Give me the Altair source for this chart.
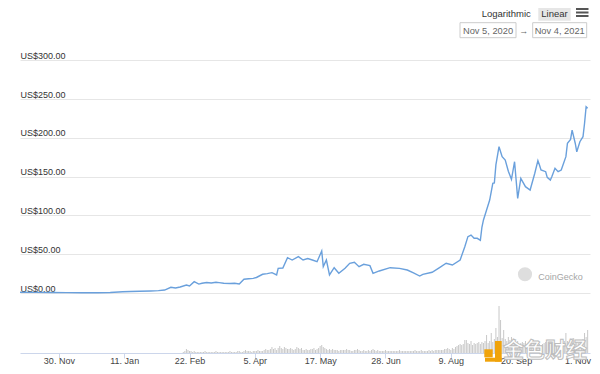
import altair as alt
import pandas as pd

# ---------------- data ----------------
price_dates = [
    "2020-11-05", "2020-11-15", "2020-11-25", "2020-12-05", "2020-12-15", "2020-12-25",
    "2021-01-02", "2021-01-10", "2021-01-15", "2021-01-21", "2021-01-28",
    "2021-02-02", "2021-02-06", "2021-02-10", "2021-02-13", "2021-02-16", "2021-02-20",
    "2021-02-22", "2021-02-25", "2021-02-28",
    "2021-03-02", "2021-03-05", "2021-03-08", "2021-03-11", "2021-03-13", "2021-03-16",
    "2021-03-20", "2021-03-23", "2021-03-26", "2021-03-29",
    "2021-04-01", "2021-04-04", "2021-04-06", "2021-04-10", "2021-04-13", "2021-04-16",
    "2021-04-19", "2021-04-20", "2021-04-23", "2021-04-26", "2021-04-29",
    "2021-05-03", "2021-05-06", "2021-05-09", "2021-05-12", "2021-05-15", "2021-05-18",
    "2021-05-19", "2021-05-21", "2021-05-23", "2021-05-26", "2021-05-29",
    "2021-06-02", "2021-06-05", "2021-06-08", "2021-06-11", "2021-06-14", "2021-06-18",
    "2021-06-20", "2021-06-24",
    "2021-07-01", "2021-07-07", "2021-07-12", "2021-07-16", "2021-07-20", "2021-07-22",
    "2021-07-28",
    "2021-08-02", "2021-08-06", "2021-08-10", "2021-08-15", "2021-08-18", "2021-08-20",
    "2021-08-22", "2021-08-24", "2021-08-26", "2021-08-28", "2021-08-29", "2021-08-30",
    "2021-09-01", "2021-09-03", "2021-09-05", "2021-09-06", "2021-09-07", "2021-09-09",
    "2021-09-11", "2021-09-13", "2021-09-15", "2021-09-17", "2021-09-19", "2021-09-21",
    "2021-09-23", "2021-09-26", "2021-09-29",
    "2021-10-02", "2021-10-04", "2021-10-05", "2021-10-06", "2021-10-09", "2021-10-10",
    "2021-10-12", "2021-10-13", "2021-10-15", "2021-10-17", "2021-10-19", "2021-10-22",
    "2021-10-23", "2021-10-25", "2021-10-26", "2021-10-28", "2021-10-29", "2021-10-31",
    "2021-11-02", "2021-11-03", "2021-11-04", "2021-11-05",
]
price_usd = [
    0.9, 0.8, 0.6, 0.5, 0.4, 0.4,
    0.6, 1.6, 2.0, 2.3, 2.6,
    3.0, 3.8, 7.3, 6.5, 7.7, 10.3,
    9.0, 14.6, 11.5,
    12.5, 13.5, 12.9, 13.8, 13.3, 12.6,
    12.2, 12.6, 11.6, 17.7,
    18.4, 18.9, 20.0, 24.1, 25.0, 26.2,
    23.2, 31.8, 32.2, 45.5, 42.5,
    46.8, 42.5, 44.5, 42.5, 40.3, 54.1,
    34.0, 42.5, 23.2, 32.6, 25.4,
    31.8, 38.3, 39.6, 33.9, 37.0, 35.2,
    25.4, 28.4,
    32.6, 31.8, 29.6, 26.0, 21.9, 24.1,
    26.7,
    33.1, 38.3, 36.1, 42.5, 59.7, 72.6,
    74.7, 70.5, 70.5, 68.0, 84.7, 94.1,
    107.0, 119.8, 141.4, 141.8, 165.0, 188.5,
    175.7, 171.4, 157.0, 146.5, 169.2, 122.0,
    147.8, 137.0, 132.7,
    154.3, 170.5, 165.0, 158.5, 156.3, 149.0,
    145.6, 150.0, 160.7, 156.3, 158.5, 175.7,
    193.0, 198.0, 210.0, 193.0, 182.0, 195.0,
    201.4, 218.7, 240.0, 238.0,
]

# daily traded volume (relative units), starting 2021-02-18
volume_start = "2021-02-18"
vol_feb = [1, 2, 4, 3, 2, 2, 1, 2, 1, 1, 1]
vol_mar = [1, 1, 1, 2, 1, 1, 1, 1, 1, 1, 2, 1, 1, 1, 1, 1, 1, 1, 1, 2,
           1, 1, 1, 1, 2, 2, 1, 1, 2, 3, 2]
vol_apr = [2, 2, 1, 2, 2, 2, 3, 2, 2, 2, 3, 4, 3, 3, 4, 6, 4, 5, 3, 5,
           7, 5, 4, 6, 5, 4, 4, 5, 4, 3]
vol_may = [4, 6, 5, 4, 5, 3, 3, 4, 3, 3, 4, 4, 5, 3, 4, 5, 7, 8, 6, 5,
           4, 3, 4, 3, 4, 3, 3, 3, 2, 3, 3]
vol_jun = [3, 3, 4, 3, 3, 2, 2, 3, 3, 4, 3, 2, 2, 3, 2, 2, 3, 2, 3, 4,
           3, 2, 3, 2, 2, 2, 2, 3, 2, 2]
vol_jul = [2, 2, 2, 2, 2, 2, 3, 2, 2, 2, 2, 2, 2, 2, 2, 2, 3, 2, 2, 2,
           3, 2, 2, 2, 2, 3, 2, 3, 2, 3, 3]
vol_aug = [3, 3, 3, 3, 4, 4, 5, 4, 3, 5, 4, 6, 7, 8, 9, 8, 9, 13, 13, 10,
           9, 12, 8, 10, 9, 10, 11, 9, 11, 10, 12]
vol_sep = [18, 10, 12, 20, 11, 14, 25, 16, 47, 33, 15, 23, 14, 12, 16, 13, 16, 12, 10, 11,
           12, 9, 10, 11, 10, 12, 9, 10, 9, 11]
vol_oct = [13, 9, 10, 8, 9, 8, 9, 10, 11, 8, 9, 10, 8, 9, 8, 9, 10, 8, 9, 10,
           12, 20, 12, 11, 10, 15, 15, 12, 11, 10, 12]
vol_nov = [12, 14, 20, 16, 23]

y_ticks = [0, 50, 100, 150, 200, 250, 300]
x_tick_dates = ["2020-11-30", "2021-01-11", "2021-02-22", "2021-04-05", "2021-05-17",
                "2021-06-28", "2021-08-09", "2021-09-20", "2021-11-01"]

# ---------------- tables ----------------
price_df = pd.DataFrame({"date": price_dates, "price": price_usd})
vol_values = vol_feb + vol_mar + vol_apr + vol_may + vol_jun + vol_jul + vol_aug + vol_sep + vol_oct + vol_nov
vol_df = pd.DataFrame({
    "date": pd.date_range(volume_start, periods=len(vol_values), freq="D").strftime("%Y-%m-%d"),
    "volume": vol_values,
})
one = pd.DataFrame({"k": [0]})

FONT = "Liberation Sans"


def dt(s, hours=0):
    y, m, d = (int(p) for p in s.split("-"))
    return alt.DateTime(year=y, month=m, date=d, hours=hours, utc=True)


x_scale = alt.Scale(type="utc", domain=[dt("2020-11-05"), dt("2021-11-06", 12)])
x_axis = alt.Axis(
    values=[dt(s) for s in x_tick_dates],
    labelExpr="utcFormat(datum.value, '%-d. %b')",
    title=None, grid=False, domainColor="#ccd6eb", tickColor="#ccd6eb", tickSize=5,
    labelPadding=-2, labelFont=FONT, labelFontSize=9, labelColor="#444",
    labelFlush=10, labelFlushOffset=9,
)
y_axis = alt.Axis(
    values=y_ticks, labelExpr="'US$' + format(datum.value, ',.2f')",
    title=None, orient="left", labelAlign="left", labelBaseline="alphabetic",
    labelOffset=-2, labelPadding=0, ticks=False, tickSize=0, domain=False,
    grid=True, gridColor="#e6e6e6", labelFont=FONT, labelFontSize=9, labelColor="#333",
)

vol = alt.Chart(vol_df).mark_rule(color="#c8c8c8", strokeWidth=1).encode(
    x=alt.X("date:T", scale=x_scale, axis=x_axis),
    y=alt.Y("volume:Q", scale=alt.Scale(domain=[0, 345], nice=False, zero=True), axis=None),
    y2=alt.datum(0),
)

line = alt.Chart(price_df).mark_line(color="#6aa0dc", strokeWidth=1.4).encode(
    x=alt.X("date:T", scale=x_scale, axis=x_axis),
    y=alt.Y("price:Q", scale=alt.Scale(domain=[-77.32, 367.27], nice=False, zero=False), axis=y_axis),
)


def txt(s, x, y, size=9.5, color="#333", align="left", **kw):
    return alt.Chart(one).mark_text(align=align, baseline="middle", font=FONT, fontSize=size,
                                    color=color, **kw).encode(
        x=alt.value(x), y=alt.value(y), text=alt.value(s))


def rect(x, x2, y, y2, **kw):
    return alt.Chart(one).mark_rect(**kw).encode(
        x=alt.value(x), x2=alt.value(x2), y=alt.value(y), y2=alt.value(y2))


def hrule(x, x2, y, color="#555", w=2):
    return alt.Chart(one).mark_rule(color=color, strokeWidth=w).encode(
        x=alt.value(x), x2=alt.value(x2), y=alt.value(y))


ui = [
    txt("Logarithmic", 461.7, 5.6),
    rect(518.3, 550.7, -5, 12.7, fill="#e6e6e6"),
    txt("Linear", 534.5, 5.6, align="center"),
    hrule(556, 568.5, 1),
    hrule(556, 568.5, 4.5),
    hrule(556, 568.5, 8),
    rect(440, 496, 14.7, 29.7, fill="white", stroke="#cccccc", strokeWidth=1),
    txt("Nov 5, 2020", 468, 22.5, size=9.3, color="#666", align="center"),
    txt("→", 503.7, 22.5, size=9, color="#666", align="center"),
    rect(512.7, 566.7, 14.7, 29.7, fill="white", stroke="#cccccc", strokeWidth=1),
    txt("Nov 4, 2021", 539.7, 22.5, size=9.3, color="#666", align="center"),
    alt.Chart(one).mark_circle(size=200, color="#dedede", opacity=1).encode(
        x=alt.value(505), y=alt.value(266.2)),
    txt("CoinGecko", 518.3, 268.7, size=9, color="#a6a6a6"),
    rect(464.3, 472.7, 341.3, 349.3, fill="#f0a30a"),
    rect(475, 481.7, 333, 353.7, fill="#f0a30a"),
    rect(465, 481.7, 349.7, 353.7, fill="#f0a30a"),
    alt.Chart(one).mark_text(align="left", baseline="middle", font="Noto Sans CJK SC",
                             fontSize=21, fontWeight="bold", fill="white", stroke="#bdbdbd",
                             strokeWidth=1).encode(
        x=alt.value(483), y=alt.value(343), text=alt.value("金色财经")),
]

chart = alt.layer(vol, line, *ui).resolve_scale(y="independent").properties(
    width=570, height=345,
    autosize=alt.AutoSizeParams(type="none"),
    padding={"left": 12, "top": 0, "right": 2, "bottom": 13},
    background="white",
).configure_view(stroke=None)

chart.save("out.html", embed_options={"renderer": "svg", "actions": False})
